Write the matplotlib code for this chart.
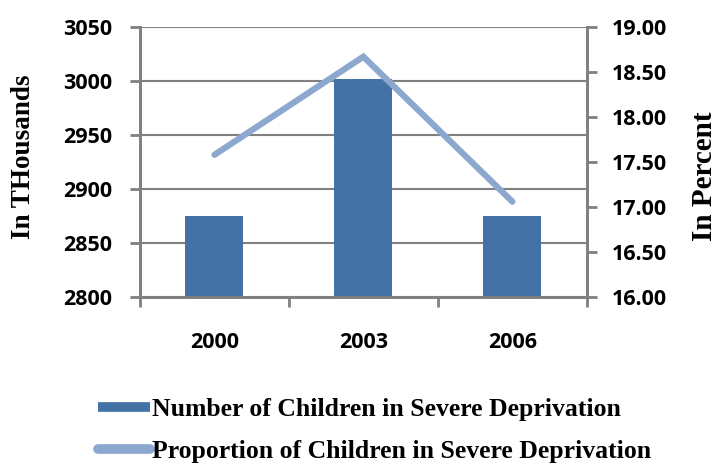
import matplotlib
matplotlib.use("Agg")
import matplotlib.pyplot as plt
from matplotlib.lines import Line2D

years = ["2000", "2003", "2006"]
children_thousands = [2875, 3002, 2875]
children_percent = [17.58, 18.67, 17.06]

bar_color = "#4472A6"
line_color = "#8DA8CF"
grid_color = "#808080"

fig = plt.figure(figsize=(7.21, 4.65), dpi=100)
ax = fig.add_axes([0.194, 0.361, 0.62, 0.581])
ax2 = ax.twinx()

x = list(range(len(years)))
ax.bar(x, children_thousands, width=0.39, color=bar_color, zorder=3)
ax2.plot(x, children_percent, color=line_color, linewidth=4.5,
         solid_capstyle="round", solid_joinstyle="miter", zorder=4)

ax.set_xlim(-0.5, 2.5)
ax.set_ylim(2800, 3050)
ax.set_yticks(range(2800, 3051, 50))
ax2.set_ylim(16, 19)
ax2.set_yticks([16 + 0.5 * i for i in range(7)])
ax2.set_yticklabels(["%.2f" % (16 + 0.5 * i) for i in range(7)])

ax.set_zorder(ax2.get_zorder() - 1)
ax.patch.set_visible(True)
ax2.patch.set_visible(False)

ax.yaxis.grid(True, color=grid_color, linewidth=1.5, zorder=0)
ax.set_axisbelow(True)

# ticks sit between the categories, labels centred on them
ax.set_xticks([-0.5, 0.5, 1.5, 2.5])
ax.set_xticklabels([])
ax.set_xticks(x, minor=True)
ax.set_xticklabels(years, minor=True)
ax.tick_params(axis="x", which="major", length=7, width=2, color=grid_color, direction="out")
ax.tick_params(axis="x", which="minor", length=0, pad=25)

for lab in ax.get_yticklabels() + ax2.get_yticklabels() + ax.get_xticklabels(minor=True):
    lab.set_fontfamily("Open Sans")
    lab.set_fontsize(15.5)
    lab.set_fontweight("bold")

ax.tick_params(axis="y", length=7, width=2, color=grid_color, pad=13)
ax2.tick_params(axis="y", length=7, width=2, color=grid_color, pad=11)

for a in (ax, ax2):
    a.spines["top"].set_visible(False)
    for s in ("left", "right", "bottom"):
        a.spines[s].set_color(grid_color)
        a.spines[s].set_linewidth(2)

fig.text(24 / 721, 1 - 157 / 465, "In THousands", rotation=90, ha="center", va="center",
         family="Liberation Serif", fontsize=19.5, fontweight="bold")
fig.text(705 / 721, 1 - 176 / 465, "In Percent", rotation=90, ha="center", va="center",
         family="Liberation Serif", fontsize=21, fontweight="bold")

handles = [
    Line2D([0], [0], color=bar_color, linewidth=7, solid_capstyle="butt"),
    Line2D([0], [0], color=line_color, linewidth=7, solid_capstyle="round"),
]
labels = ["Number of Children in Severe Deprivation",
          "Proportion of Children in Severe Deprivation"]
fig.legend(handles, labels, loc="center", bbox_to_anchor=(0.52, 0.074),
           frameon=False, prop={"family": "Liberation Serif", "size": 18.5, "weight": "bold"},
           handlelength=2.0, handletextpad=0.1, labelspacing=0.75, borderpad=0)

fig.savefig("out.png", dpi=100)
